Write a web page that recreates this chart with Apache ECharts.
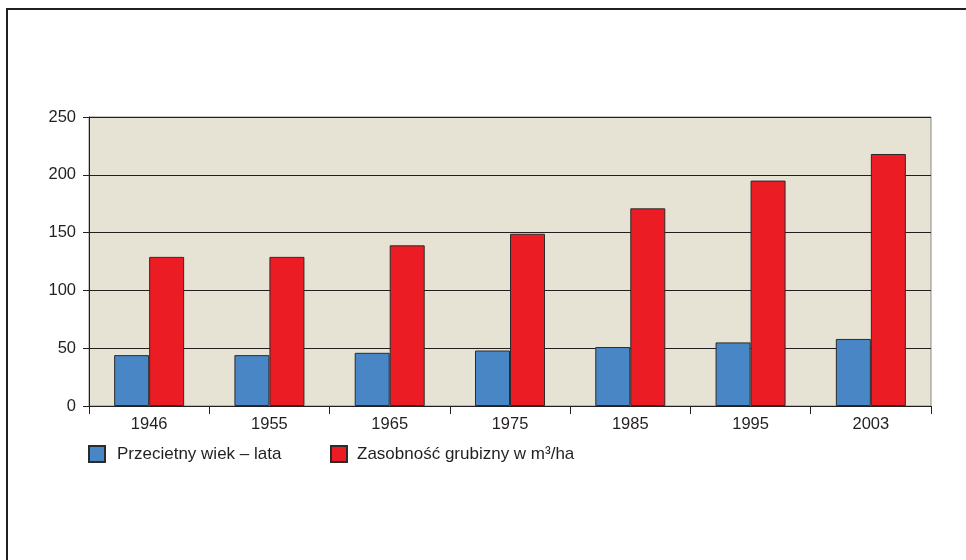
<!DOCTYPE html>
<html><head><meta charset="utf-8">
<script src="https://cdn.jsdelivr.net/npm/echarts@6/dist/echarts.min.js"></script>
<style>html,body{margin:0;padding:0;background:#fff}#c{width:966px;height:560px}</style>
</head><body><div id="c"></div>
<script>
const categories = ['1946','1955','1965','1975','1985','1995','2003'];
const ageValues = [44, 44, 46, 48, 51, 55, 58];
const stockValues = [129, 129, 139, 149, 171, 195, 218];
const yTicks = [0, 50, 100, 150, 200, 250];
const seriesNames = ['Przecietny wiek – lata', 'Zasobność grubizny w m³/ha'];

const chart = echarts.init(document.getElementById('c'), null, {renderer:'canvas'});
const txt = '#231f20';
const font = 'Liberation Sans, Arial, Helvetica, sans-serif';
chart.setOption({
  animation: false,
  backgroundColor: '#ffffff',
  textStyle: {fontFamily: font, color: txt},
  graphic: [{
    type: 'rect', z: 0,
    shape: {x: 7, y: 9, width: 1000, height: 600},
    style: {fill: 'none', stroke: '#231f20', lineWidth: 2}
  }],
  grid: {left: 89, top: 117, width: 842, height: 289, show: true,
         backgroundColor: '#e6e3d4', borderColor: '#8a8a8a', borderWidth: 1},
  legend: [{
    data: [seriesNames[0]], left: 83, top: 440, itemWidth: 16, itemHeight: 16, icon: 'rect',
    textStyle: {fontSize: 17, color: txt, fontFamily: font, padding: [0,0,0,7]}
  },{
    data: [seriesNames[1]], left: 325, top: 440, itemWidth: 16, itemHeight: 16, icon: 'rect',
    textStyle: {fontSize: 17, color: txt, fontFamily: font, padding: [0,0,0,5]}
  }],
  xAxis: {
    type: 'category', data: categories, boundaryGap: true,
    axisLine: {lineStyle: {color: txt, width: 1}},
    axisTick: {show: true, length: 8, lineStyle: {color: txt}},
    axisLabel: {fontSize: 16.5, color: txt, margin: 10, fontFamily: font}
  },
  yAxis: {
    type: 'value', min: yTicks[0], max: yTicks[yTicks.length-1], interval: 50,
    axisLine: {show: true, lineStyle: {color: txt, width: 1}},
    axisTick: {show: true, length: 6, lineStyle: {color: txt}},
    axisLabel: {fontSize: 16.5, color: txt, margin: 13, fontFamily: font},
    splitLine: {show: true, lineStyle: {color: txt, width: 1}}
  },
  series: [{
    name: seriesNames[0], type: 'bar', data: ageValues, barWidth: 35, barGap: '0%',
    itemStyle: {color: '#4886c6', borderColor: '#2b2b2b', borderWidth: 1}
  },{
    name: seriesNames[1], type: 'bar', data: stockValues, barWidth: 35,
    itemStyle: {color: '#ec1c24', borderColor: '#2b2b2b', borderWidth: 1}
  }]
});
</script></body></html>
